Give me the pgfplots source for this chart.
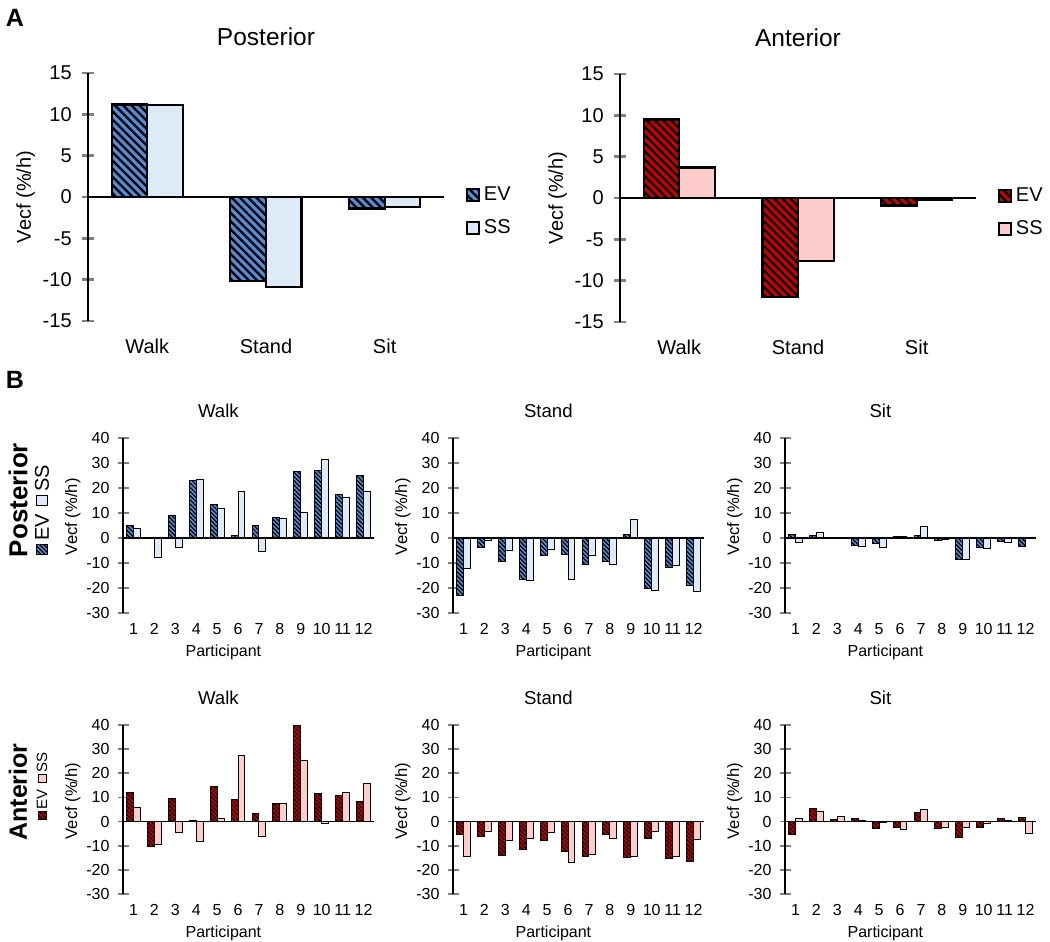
\documentclass[border=0pt]{standalone}
\usepackage{fontspec}
\setmainfont{Liberation Sans}
\usepackage{pgfplots}
\pgfplotsset{compat=1.18}
\usepackage{pgfplotstable}
\usetikzlibrary{patterns.meta}

\definecolor{evblue}{RGB}{83,141,213}
\definecolor{ssblue}{RGB}{222,235,247}
\definecolor{evred}{RGB}{200,0,0}
\definecolor{sspink}{RGB}{255,204,204}

% participant values, Vecf (%/h)
\pgfplotstableread{
p  wEV   wSS   stEV   stSS   siEV  siSS
1  5.0   3.7   -23.0  -12.3  1.5   -2.0
2  0.3   -8.0  -3.8   -1.0   0.8   2.0
3  9.0   -3.8  -9.6   -5.2   0.3   0.1
4  23.0  23.5  -16.6  -16.9  -3.0  -3.5
5  13.3  11.8  -7.1   -4.5   -2.3  -3.7
6  1.0   18.7  -6.7   -16.6  0.7   0.4
7  4.8   -5.5  -10.6  -6.9   1.1   4.6
8  8.0   7.6   -9.3   -10.8  -1.0  -0.7
9  26.5  10.3  1.5    7.3    -8.8  -8.5
10 26.8  31.2  -20.4  -21.0  -3.7  -4.2
11 17.4  16.0  -12.0  -11.0  -1.5  -1.9
12 24.8  18.4  -19.0  -21.5  -3.5  -0.2
}\post
\pgfplotstableread{
p  wEV   wSS   stEV   stSS   siEV  siSS
1  12.2  6.0   -5.2   -14.3  -5.4  1.2
2  -10.2 -9.7  -6.0   -4.0   5.3   4.1
3  9.7   -4.5  -14.1  -7.7   0.7   2.0
4  0.5   -8.2  -11.4  -6.9   1.1   0.3
5  14.4  1.2   -7.8   -4.5   -2.9  -0.5
6  9.3   27.5  -12.5  -17.0  -2.4  -3.4
7  3.4   -6.3  -14.6  -13.6  3.9   5.0
8  7.4   7.6   -5.3   -7.1   -2.9  -2.5
9  39.7  25.5  -14.8  -14.4  -6.8  -2.5
10 11.5  -1.0  -7.2   -4.3   -2.6  -1.0
11 11.0  12.1  -15.5  -14.4  1.4   0.4
12 8.3   15.8  -16.4  -7.6   1.8   -5.0
}\ant

\newcommand{\fA}{\fontsize{10}{12}\selectfont}
\newcommand{\fB}{\fontsize{8}{9.6}\selectfont}

\tikzset{
  evA/.style={draw=black, line width=1.1pt, fill=#1,
    postaction={pattern={Lines[angle=-45,distance=2.9pt,line width=1.15pt]}, pattern color=black}},
  ssA/.style={draw=black, line width=1.1pt, fill=#1},
  evB/.style={draw=black, line width=0.5pt, fill=#1,
    postaction={pattern={Lines[angle=-45,distance=1.5pt,line width=0.6pt]}, pattern color=black}},
  ssB/.style={draw=black, line width=0.5pt, fill=#1},
}

\pgfplotsset{
  common/.style={scale only axis, axis y line*=left, axis x line*=bottom,
    x axis line style={draw=none}, xtick style={draw=none},
    tick align=center, ybar=0pt, clip=false,
    /pgf/number format/assume math mode=true},
  panelA/.style={common, width=178pt, height=124pt,
    xmin=-0.5, xmax=2.5, ymin=-15, ymax=15, ytick={-15,-10,...,15},
    xtick={0,1,2}, xticklabels={Walk,Stand,Sit}, bar width=0.3,
    y axis line style={line width=1.4pt}, ytick style={line width=1.4pt},
    major tick length=6.3pt,
    ticklabel style={font=\fA}, xticklabel style={yshift=1pt},
    yticklabel style={xshift=-1.5pt},
    title style={font=\fontsize{12.25}{14}\selectfont, at={(axis description cs:0.5,1)}, anchor=center, yshift=12pt},
    ylabel={Vecf (\%/h)}, ylabel style={font=\fA, at={(axis description cs:-0.175,0.5)}, anchor=center},
    legend image code/.code={\draw[##1] (0pt,-3pt) rectangle (6pt,3pt);},
    legend style={draw=none, fill=none, font=\fA, at={(axis description cs:1.06,0.56)},
      anchor=north west, inner sep=0pt, row sep=4pt, cells={anchor=west}}},
  panelB/.style={common, width=125.5pt,
    xmin=0.5, xmax=12.5, ymin=-30, ymax=40, ytick={-30,-20,...,40},
    xtick={1,...,12}, bar width=0.33,
    y axis line style={line width=0.9pt}, ytick style={line width=0.9pt},
    major tick length=5.5pt,
    ticklabel style={font=\fB}, yticklabel style={xshift=-0.5pt},
    xticklabel style={yshift=4pt},
    title style={font=\fontsize{9.3}{11}\selectfont, at={(axis description cs:0.38,1)}, anchor=center, yshift=7.5pt},
    xlabel={Participant}, xlabel style={font=\fontsize{8}{9.6}\selectfont, at={(axis description cs:0.4,0)}, anchor=center, yshift=-19.5pt},
    ylabel={Vecf (\%/h)}, ylabel style={font=\fontsize{8.3}{10}\selectfont, at={(axis description cs:-0.2,0.55)}, anchor=center}},
}

\begin{document}
\begin{tikzpicture}
\path[use as bounding box] (0,0) rectangle (525pt,471pt);

\node[font=\bfseries\fontsize{12.5}{14}\selectfont] at (7.5pt,462pt) {A};
\node[font=\bfseries\fontsize{12.5}{14}\selectfont] at (7.5pt,281pt) {B};
\node[font=\bfseries\fontsize{13}{15}\selectfont, rotate=90] at (9pt,221pt) {Posterior};
\node[font=\bfseries\fontsize{12.5}{14}\selectfont, rotate=90] at (9pt,75pt) {Anterior};

% legends of panel B, set upright along the left edge
\begin{scope}[shift={(21pt,193.5pt)}, rotate=90, transform shape]
  \draw[evB=evblue] (0pt,-2.6pt) rectangle (5.2pt,2.6pt);
  \node[anchor=west, inner sep=0pt, font=\fontsize{10}{12}\selectfont] at (6.8pt,0) {EV};
  \draw[ssB=ssblue] (24.5pt,-2.6pt) rectangle (29.7pt,2.6pt);
  \node[anchor=west, inner sep=0pt, font=\fontsize{10}{12}\selectfont] at (31.3pt,0) {SS};
\end{scope}
\begin{scope}[shift={(21pt,61pt)}, rotate=90, transform shape]
  \draw[evB=evred] (0pt,-2pt) rectangle (4pt,2pt);
  \node[anchor=west, inner sep=0pt, font=\fontsize{7.5}{9}\selectfont] at (5.2pt,0) {EV};
  \draw[ssB=sspink] (18.5pt,-2pt) rectangle (22.5pt,2pt);
  \node[anchor=west, inner sep=0pt, font=\fontsize{7.5}{9}\selectfont] at (23.7pt,0) {SS};
\end{scope}

% ---------- A: means ----------
\begin{axis}[panelA, at={(44pt,310.5pt)}, anchor=south west, title={Posterior}]
  \addplot[evA=evblue] coordinates {(0,11.2) (1,-10.2) (2,-1.4)};
  \addplot[ssA=ssblue] coordinates {(0,11.1) (1,-10.9) (2,-1.2)};
  \legend{EV,SS}
  \draw[line width=1pt] (axis cs:-0.5,0) -- (axis cs:2.5,0);
\end{axis}
\begin{axis}[panelA, at={(310pt,310pt)}, anchor=south west, title={Anterior}]
  \addplot[evA=evred] coordinates {(0,9.5) (1,-12.0) (2,-0.9)};
  \addplot[ssA=sspink] coordinates {(0,3.7) (1,-7.6) (2,-0.2)};
  \legend{EV,SS}
  \draw[line width=1pt] (axis cs:-0.5,0) -- (axis cs:2.5,0);
\end{axis}

% ---------- B: posterior ----------
\begin{axis}[panelB, height=87.5pt, at={(61.5pt,164.5pt)}, anchor=south west, title={Walk}]
  \addplot[evB=evblue] table[x=p,y=wEV] {\post};
  \addplot[ssB=ssblue] table[x=p,y=wSS] {\post};
  \draw[line width=0.7pt] (axis cs:0.5,0) -- (axis cs:12.5,0);
\end{axis}
\begin{axis}[panelB, height=87.5pt, at={(226.5pt,164.5pt)}, anchor=south west, title={Stand}]
  \addplot[evB=evblue] table[x=p,y=stEV] {\post};
  \addplot[ssB=ssblue] table[x=p,y=stSS] {\post};
  \draw[line width=0.7pt] (axis cs:0.5,0) -- (axis cs:12.5,0);
\end{axis}
\begin{axis}[panelB, height=87.5pt, at={(392.5pt,164.5pt)}, anchor=south west, title={Sit}]
  \addplot[evB=evblue] table[x=p,y=siEV] {\post};
  \addplot[ssB=ssblue] table[x=p,y=siSS] {\post};
  \draw[line width=0.7pt] (axis cs:0.5,0) -- (axis cs:12.5,0);
\end{axis}

% ---------- B: anterior ----------
\begin{axis}[panelB, height=84.5pt, at={(61.5pt,24pt)}, anchor=south west, title={Walk}]
  \addplot[evB=evred] table[x=p,y=wEV] {\ant};
  \addplot[ssB=sspink] table[x=p,y=wSS] {\ant};
  \draw[line width=0.7pt] (axis cs:0.5,0) -- (axis cs:12.5,0);
\end{axis}
\begin{axis}[panelB, height=84.5pt, at={(226.5pt,24pt)}, anchor=south west, title={Stand}]
  \addplot[evB=evred] table[x=p,y=stEV] {\ant};
  \addplot[ssB=sspink] table[x=p,y=stSS] {\ant};
  \draw[line width=0.7pt] (axis cs:0.5,0) -- (axis cs:12.5,0);
\end{axis}
\begin{axis}[panelB, height=84.5pt, at={(392.5pt,24pt)}, anchor=south west, title={Sit}]
  \addplot[evB=evred] table[x=p,y=siEV] {\ant};
  \addplot[ssB=sspink] table[x=p,y=siSS] {\ant};
  \draw[line width=0.7pt] (axis cs:0.5,0) -- (axis cs:12.5,0);
\end{axis}
\end{tikzpicture}
\end{document}
